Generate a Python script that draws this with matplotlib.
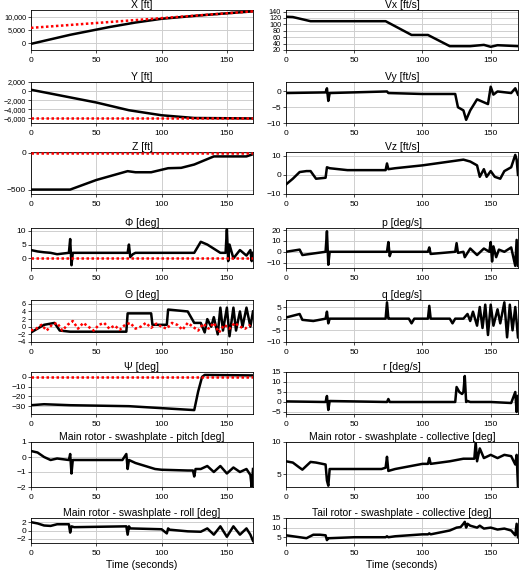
import numpy as np
import matplotlib
matplotlib.use("Agg")
import matplotlib.pyplot as plt
from matplotlib.ticker import FuncFormatter

# ---- data ----
x_t = [0, 30, 60, 80, 100, 130, 170]
x_v = [-200, 3200, 6100, 7800, 9200, 10500, 12000]
x_ref_t = [0, 170]; x_ref_v = [5800, 12000]

y_t = [0, 50, 75, 100, 125, 170]
y_v = [300, -2500, -4200, -5300, -5900, -6000]
y_ref_t = [0, 170]; y_ref_v = [-6000, -6000]

z_t = [0, 30, 50, 74, 80, 92, 105, 115, 125, 140, 165, 170]
z_v = [-500, -500, -370, -250, -265, -265, -210, -205, -160, -50, -50, -20]
z_ref_t = [0, 170]; z_ref_v = [0, 0]

phi_t = [0, 5, 10, 15, 20, 29, 30, 31, 32, 35, 74, 75, 76, 78, 80, 120, 125, 130, 135, 145, 149, 150, 151, 152, 155, 160, 165, 168, 169, 170]
phi_v = [3, 2.5, 2.2, 2, 1.5, 2, 7, -2.5, 2, 2, 2, 5, 0.5, 1.5, 2, 2, 2, 6, 5, 2, 2, 10.5, -1, 5, 0, 3, 1, 3, -1, 2]
phi_ref_t = [0, 170]; phi_ref_v = [0, 0]

th_t = [0, 5, 10, 18, 22, 30, 73, 74, 92, 93, 104, 105, 120, 125, 130, 133, 135, 138, 140, 143, 145, 147, 150, 152, 155, 157, 160, 162, 165, 168, 170]
th_v = [-1.5, -0.5, 0.5, 1, -1, -1.3, -1.3, 3.5, 3.5, 0.5, 0.5, 4.5, 4, 1, 1, -1.5, 2, 0, 2.5, -2, 5, -1, 5, -2.5, 5, -1, 4, 0, 5, 0, 4]
th_ref_t = list(range(0, 172, 4))
th_ref_v = [-1, -0.5, 0.5, -1, 0.5, 1, -1, 0.5, 1.5, -0.5, 1, 0, -1, 0.5, 1, -0.5, 0.3, -0.8, 0.5, 1, -0.5, 0, 1, -0.3, 0.8, 0, -0.5, 1, 0.5, -0.8, 1, 0, -1, 0.8, -0.5, 1, -1.5, 0.5, -0.5, 1, 0, -0.5, 0.5]

psi_t = [0, 10, 30, 75, 100, 125, 128, 131, 133, 170]
psi_v = [-29, -28, -29, -30, -32, -34, -15, 0, 2, 1.5]
psi_ref_t = [0, 170]; psi_ref_v = [0, 0]

pit_t = [0, 5, 10, 15, 20, 29, 30, 31, 32, 40, 70, 73, 74, 75, 80, 95, 100, 120, 124, 125, 126, 130, 135, 140, 145, 150, 155, 160, 165, 168, 169, 170]
pit_v = [0.4, 0.3, 0, -0.2, -0.1, -0.2, 0.2, -1.1, -0.2, -0.2, -0.2, 0.2, -0.8, -0.2, -0.4, -0.8, -0.85, -0.9, -0.9, -1.3, -0.8, -0.8, -0.6, -1, -0.6, -1.1, -0.7, -1, -0.8, -1.2, -2, -0.8]

rol_t = [0, 5, 10, 15, 20, 29, 30, 31, 33, 73, 74, 75, 76, 100, 104, 105, 106, 120, 130, 135, 140, 145, 150, 155, 160, 165, 168, 170]
rol_v = [2, 1.7, 1.2, 1.1, 1.5, 1.5, -0.5, 1, 0.8, 1, -1, 1, 0.5, 0.3, -0.7, 0.5, 0.2, -0.2, -0.3, 0.5, -1, 1, -1.5, 1, -1, 0.5, -1, -2.5]

vx_t = [0, 5, 18, 73, 92, 104, 120, 135, 145, 150, 155, 170]
vx_v = [124, 123, 110, 110, 67, 67, 32, 32, 36, 30, 35, 32]

vy_t = [0, 29, 30, 31, 32, 74, 75, 100, 124, 126, 130, 132, 135, 140, 148, 150, 152, 155, 165, 168, 170]
vy_v = [-0.5, -0.3, 1, -3, -0.5, 0, -0.5, -0.8, -0.8, -5, -6, -9, -6, -2.5, -4, 1.5, -1, 0, -0.5, 1, -1]

vz_t = [0, 5, 10, 15, 18, 22, 29, 30, 32, 45, 73, 74, 75, 80, 100, 125, 130, 135, 140, 142, 145, 147, 150, 153, 157, 160, 165, 168, 169, 170]
vz_v = [-5, -2, 1.5, 2, 2, -2, -1.5, 4, 3.5, 2.5, 2.5, 6, 3, 3.5, 5, 7.5, 8, 7, 5, -1, 3, -1, 2, -1, -2, 2, 4, 10.5, 8, 0]

p_t = [0, 10, 12, 29, 30, 31, 32, 74, 75, 76, 77, 104, 105, 106, 124, 125, 126, 130, 131, 135, 140, 145, 149, 150, 151, 152, 154, 156, 160, 165, 168, 169, 170]
p_v = [0, 2, -3, 0, 19, -12, 0, 0, 9, -4, 0, 0, 4, -2, 0, 8, -1, 0, -5, 3, -3, 3, 0, 9, -9, 5, -5, 2, 0, 4, -13, 11, -13]

q_t = [0, 10, 12, 20, 29, 30, 31, 32, 73, 74, 75, 76, 90, 92, 94, 104, 105, 106, 120, 122, 124, 130, 133, 135, 137, 140, 142, 144, 146, 148, 150, 152, 155, 157, 160, 162, 164, 166, 168, 170]
q_v = [0.5, 2, -0.5, -1, 0, 3, -2, 0, 0, 7, 0, 0, 0, -2, 0, 0, 5.5, 0, 0, -2, 0, 0, 2, -1, 3, -3, 5, -4, 6, -7, 6, -3, 4, -2, 7, -8, 6, -5, 5, -8]

r_t = [0, 29, 30, 31, 32, 74, 75, 76, 124, 125, 127, 129, 130, 131, 132, 133, 135, 150, 165, 168, 169, 170]
r_v = [0.3, 0, 3, -4, 0.5, 0, 1.5, 0, 0, 7.5, 5, 4, 5, 13, 0, 0.5, 0, 0, -0.5, 5, -5, 3]

mc_t = [0, 5, 10, 12, 18, 22, 29, 30, 31, 32, 40, 70, 73, 74, 75, 80, 90, 100, 104, 105, 106, 120, 125, 130, 138, 139, 140, 142, 145, 150, 155, 160, 165, 168, 169, 170]
mc_v = [7, 6.8, 6, 5.7, 6.9, 6.8, 6.5, 4, 3.2, 5.8, 5.8, 5.8, 6, 7.7, 5.5, 5.8, 6.2, 6.6, 6.6, 7.5, 6.6, 7, 7.2, 7.4, 7.4, 10, 7, 9, 7.5, 8, 7.5, 8, 7.8, 6.5, 8, 3]

tc_t = [0, 10, 15, 20, 25, 29, 30, 31, 32, 50, 73, 74, 75, 80, 100, 104, 105, 106, 120, 125, 128, 130, 131, 132, 133, 135, 140, 142, 145, 150, 155, 160, 165, 168, 169, 170]
tc_v = [6, 5, 4.5, 6.3, 6.3, 6, 3.5, 4.5, 4.5, 5, 5, 5.5, 5, 5.5, 6.5, 6.5, 7, 6.5, 8.5, 10, 10.3, 12, 13, 10, 12, 11, 10, 11, 9.5, 10, 9, 9.5, 8.5, 6, 12, 5]

W, H = 520, 571
fig = plt.figure(figsize=(W / 100, H / 100), dpi=100)
plt.rcParams['font.family'] = ['Liberation Sans', 'DejaVu Sans']

rows = [(10, 50), (82, 123), (152, 194), (228, 268), (300, 342), (372, 414), (442, 487), (518, 543)]
cols = [(31, 253), (286, 518)]

comma = FuncFormatter(lambda v, p: f"{v:,.0f}".replace("-", "\u2212"))

left = [
    ("X [ft]", x_t, x_v, (x_ref_t, x_ref_v), (-2500, 12500), [0, 5000, 10000], comma),
    ("Y [ft]", y_t, y_v, (y_ref_t, y_ref_v), (-7000, 2000), [-6000, -4000, -2000, 0, 2000], comma),
    ("Z [ft]", z_t, z_v, (z_ref_t, z_ref_v), (-560, 10), [-500, 0], None),
    ("Φ [deg]", phi_t, phi_v, (phi_ref_t, phi_ref_v), (-3.5, 11), [0, 5, 10], None),
    ("Θ [deg]", th_t, th_v, (th_ref_t, th_ref_v), (-4, 7), [-4, -2, 0, 2, 4, 6], None),
    ("Ψ [deg]", psi_t, psi_v, (psi_ref_t, psi_ref_v), (-38, 5), [-30, -20, -10, 0], None),
    ("Main rotor - swashplate - pitch [deg]", pit_t, pit_v, None, (-2, 1), [-2, -1, 0, 1], None),
    ("Main rotor - swashplate - roll [deg]", rol_t, rol_v, None, (-3, 3), [-2, 0, 2], None),
]
right = [
    ("Vx [ft/s]", vx_t, vx_v, None, (20, 145), [20, 40, 60, 80, 100, 120, 140], None),
    ("Vy [ft/s]", vy_t, vy_v, None, (-10, 3), [-10, -5, 0], None),
    ("Vz [ft/s]", vz_t, vz_v, None, (-10, 12), [-10, 0, 10], None),
    ("p [deg/s]", p_t, p_v, None, (-15, 22), [-10, 0, 10, 20], None),
    ("q [deg/s]", q_t, q_v, None, (-10, 8), [-10, -5, 0, 5], None),
    ("r [deg/s]", r_t, r_v, None, (-6, 15), [-5, 0, 5, 10, 15], None),
    ("Main rotor - swashplate - collective [deg]", mc_t, mc_v, None, (3, 10), [5, 10], None),
    ("Tail rotor - swashplate - collective [deg]", tc_t, tc_v, None, (2, 15), [5, 10, 15], None),
]

for ci, specs in enumerate([left, right]):
    x0, x1 = cols[ci]
    for ri, (title, t, v, ref, ylim, yt, fmt) in enumerate(specs):
        top, bot = rows[ri]
        ax = fig.add_axes([x0 / W, 1 - bot / H, (x1 - x0) / W, (bot - top) / H])
        ax.plot(t, v, color="black", lw=1.8, zorder=3)
        if ref is not None:
            ax.plot(ref[0], ref[1], color="red", lw=1.8, ls=(0, (1, 1)), zorder=4)
        ax.set_xlim(0, 170)
        ax.set_ylim(*ylim)
        ax.set_xticks([0, 50, 100, 150])
        ax.set_yticks(yt)
        if fmt is not None:
            ax.yaxis.set_major_formatter(fmt)
        ax.grid(True, color="#cfcfcf", lw=0.7)
        ax.set_axisbelow(True)
        ysz = 5.2 if len(yt) > 5 or fmt is not None else 6
        ax.tick_params(axis='x', labelsize=6, length=2, width=0.5, pad=3)
        ax.tick_params(axis='y', labelsize=ysz, length=2, width=0.5, pad=1.5)
        for s in ax.spines.values():
            s.set_linewidth(0.6)
        ax.set_title(title, fontsize=7.5, pad=1.5)
        if ri == 7:
            ax.set_xlabel("Time (seconds)", fontsize=7.5, labelpad=2)

fig.savefig("out.png", dpi=100)
